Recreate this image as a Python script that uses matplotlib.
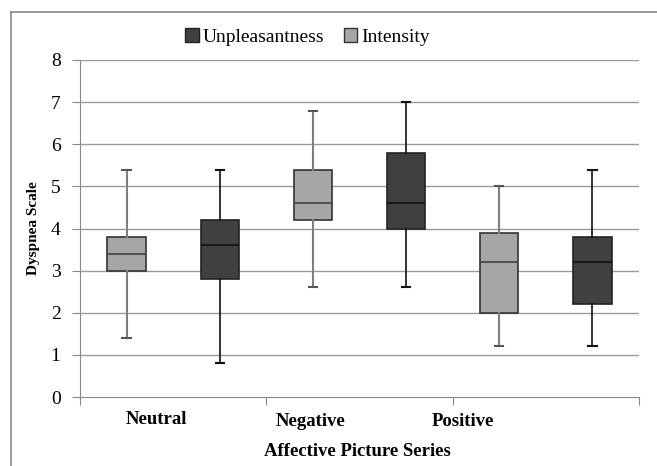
import numpy as np
import matplotlib
matplotlib.use("Agg")
import matplotlib.pyplot as plt
from matplotlib.patches import Patch
from matplotlib.lines import Line2D

plt.rcParams['font.family'] = ['Liberation Serif', 'DejaVu Serif']

categories = ['Neutral', 'Negative', 'Positive']

# intensity (light grey) boxes
int_low = [1.4, 2.6, 1.2]
int_q1 = [3.0, 4.2, 2.0]
int_med = [3.4, 4.6, 3.2]
int_q3 = [3.8, 5.4, 3.9]
int_high = [5.4, 6.8, 5.0]

# unpleasantness (dark grey) boxes
unp_low = [0.8, 2.6, 1.2]
unp_q1 = [2.8, 4.0, 2.2]
unp_med = [3.6, 4.6, 3.2]
unp_q3 = [4.2, 5.8, 3.8]
unp_high = [5.4, 7.0, 5.4]

light = '#a6a6a6'
dark = '#404040'

fig = plt.figure(figsize=(6.57, 4.66), dpi=100)
ax = fig.add_axes([80/657, 1-397/466, 559/657, 337/466])

def stats(lo, q1, med, q3, hi):
    return [dict(whislo=a, q1=b, med=c, q3=d, whishi=e, fliers=[])
            for a, b, c, d, e in zip(lo, q1, med, q3, hi)]

n = len(categories)
pos_int = np.arange(n) * 2
pos_unp = np.arange(n) * 2 + 1

b1 = ax.bxp(stats(int_low, int_q1, int_med, int_q3, int_high), positions=pos_int,
            widths=0.41, patch_artist=True, showfliers=False,
            boxprops=dict(facecolor=light, edgecolor='#333333', linewidth=1.2),
            medianprops=dict(color='#404040', linewidth=1.2),
            whiskerprops=dict(color='#7f7f7f', linewidth=1.5),
            capprops=dict(color='#555555', linewidth=1.5), capwidths=0.09)
b2 = ax.bxp(stats(unp_low, unp_q1, unp_med, unp_q3, unp_high), positions=pos_unp,
            widths=0.41, patch_artist=True, showfliers=False,
            boxprops=dict(facecolor=dark, edgecolor='#222222', linewidth=1.2),
            medianprops=dict(color='#111111', linewidth=1.2),
            whiskerprops=dict(color='#111111', linewidth=1.2),
            capprops=dict(color='#111111', linewidth=1.5), capwidths=0.09)
for d in (b1, b2):
    for arts in d.values():
        for a in arts:
            a.set_clip_on(False)

ax.set_xlim(-0.5, 5.5)
ax.set_ylim(0, 8)
ax.set_yticks(range(0, 9))
ax.tick_params(axis='y', labelsize=14, length=6, color='#888888', pad=8)
for y in range(1, 9):
    ax.axhline(y, color='#9a9a9a', linewidth=1, zorder=0)

ax.set_xticks([-0.5, 1.5, 3.5, 5.5])
ax.set_xticklabels([])
ax.tick_params(axis='x', length=6, color='#888888', direction='out')

# category labels sit off-centre, as in the original spreadsheet chart
for x, lab, yy in zip([0.318, 1.98, 3.61], categories, [-0.0653, -0.0733, -0.0733]):
    ax.text(x, yy, lab, transform=ax.get_xaxis_transform(), ha='center', va='center',
            fontweight='bold', fontsize=13.5)
ax.text(0.4955, -0.163, 'Affective Picture Series', transform=ax.transAxes,
        ha='center', va='center', fontweight='bold', fontsize=13.5)

for s in ['top', 'right']:
    ax.spines[s].set_visible(False)
ax.spines['left'].set_color('#888888')
ax.spines['bottom'].set_color('#888888')

ax.set_ylabel('Dyspnea Scale', fontweight='bold', fontsize=11, labelpad=8)

handles = [Patch(facecolor=dark, edgecolor='#222222', label='Unpleasantness'),
           Patch(facecolor=light, edgecolor='#333333', label='Intensity')]
fig.legend(handles=handles, loc='center', bbox_to_anchor=(307.5/657, 1-37/466),
           ncol=2, frameon=False, fontsize=14, handlelength=0.7, handleheight=0.7,
           handletextpad=0.2, columnspacing=1.0, borderpad=0)

# chart frame (top and left edges visible)
fig.add_artist(Line2D([11/657, 1.0], [1-12/466, 1-12/466], color='#888888', linewidth=1.2))
fig.add_artist(Line2D([11/657, 11/657], [0, 1-12/466], color='#888888', linewidth=1.2))
fig.text(0.0, 1.0 + 14/466, 'mood state.', fontsize=14, fontweight='bold', va='top', ha='left')

fig.savefig('out.png', dpi=100)
